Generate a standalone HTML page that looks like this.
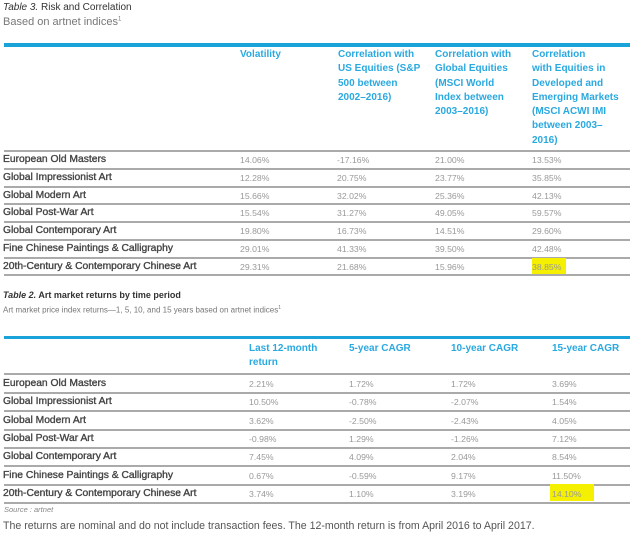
<!DOCTYPE html>
<html><head><style>
body{margin:0;width:635px;height:538px;background:#fff;position:relative;overflow:hidden;font-family:"Liberation Sans",sans-serif;}
div{position:absolute;white-space:nowrap;}
.t{font-size:10px;color:#333;}
.s{font-size:11px;color:#777;}
.s2{font-size:8px;color:#777;}
.bar{left:4px;width:626px;height:4px;background:#1aa3d9;}
.ln{left:4px;width:626px;height:1.5px;background:#aaa;}
.h{font-size:10px;color:#2aa9e0;font-weight:bold;line-height:14.3px;}
.lb{left:3px;font-size:10.3px;color:#444;-webkit-text-stroke:0.35px #444;}
.v{font-size:8.7px;color:#999;}
.hl{background:#f5f000;}
</style></head><body>
<div class="t" style="left:3px;top:2px"><i>Table 3.</i> Risk and Correlation</div>
<div class="s" style="left:3px;top:16px">Based on artnet indices<sup style="font-size:6px">1</sup></div>
<div class="bar" style="top:43px"></div>
<div class="h" style="left:240px;top:48px">Volatility</div>
<div class="h" style="left:338px;top:48px">Correlation with<br>US Equities (S&amp;P<br>500 between<br>2002–2016)</div>
<div class="h" style="left:435px;top:48px">Correlation with<br>Global Equities<br>(MSCI World<br>Index between<br>2003–2016)</div>
<div class="h" style="left:532px;top:48px">Correlation<br>with Equities in<br>Developed and<br>Emerging Markets<br>(MSCI ACWI IMI<br>between 2003–<br>2016)</div>
<div class="ln" style="top:150px;height:2px"></div>
<div class="ln" style="top:168px"></div>
<div class="ln" style="top:186px"></div>
<div class="ln" style="top:203px"></div>
<div class="ln" style="top:221px"></div>
<div class="ln" style="top:239px"></div>
<div class="ln" style="top:257px"></div>
<div class="ln" style="top:274px;height:2px"></div>
<div class="hl" style="left:532px;top:258px;width:34px;height:16px"></div>

<div class="lb" style="top:154px">European Old Masters</div>
<div class="lb" style="top:172px">Global Impressionist Art</div>
<div class="lb" style="top:190px">Global Modern Art</div>
<div class="lb" style="top:207px">Global Post-War Art</div>
<div class="lb" style="top:225px">Global Contemporary Art</div>
<div class="lb" style="top:243px">Fine Chinese Paintings &amp; Calligraphy</div>
<div class="lb" style="top:261px">20th-Century &amp; Contemporary Chinese Art</div>

<div class="v" style="left:240px;top:155px">14.06%</div><div class="v" style="left:337px;top:155px">-17.16%</div><div class="v" style="left:435px;top:155px">21.00%</div><div class="v" style="left:532px;top:155px">13.53%</div>
<div class="v" style="left:240px;top:173px">12.28%</div><div class="v" style="left:337px;top:173px">20.75%</div><div class="v" style="left:435px;top:173px">23.77%</div><div class="v" style="left:532px;top:173px">35.85%</div>
<div class="v" style="left:240px;top:191px">15.66%</div><div class="v" style="left:337px;top:191px">32.02%</div><div class="v" style="left:435px;top:191px">25.36%</div><div class="v" style="left:532px;top:191px">42.13%</div>
<div class="v" style="left:240px;top:208px">15.54%</div><div class="v" style="left:337px;top:208px">31.27%</div><div class="v" style="left:435px;top:208px">49.05%</div><div class="v" style="left:532px;top:208px">59.57%</div>
<div class="v" style="left:240px;top:226px">19.80%</div><div class="v" style="left:337px;top:226px">16.73%</div><div class="v" style="left:435px;top:226px">14.51%</div><div class="v" style="left:532px;top:226px">29.60%</div>
<div class="v" style="left:240px;top:244px">29.01%</div><div class="v" style="left:337px;top:244px">41.33%</div><div class="v" style="left:435px;top:244px">39.50%</div><div class="v" style="left:532px;top:244px">42.48%</div>
<div class="v" style="left:240px;top:262px">29.31%</div><div class="v" style="left:337px;top:262px">21.68%</div><div class="v" style="left:435px;top:262px">15.96%</div><div class="v" style="left:532px;top:262px">38.85%</div>

<div class="t" style="left:3px;top:290px;font-size:9px;font-weight:bold"><i>Table 2.</i> Art market returns by time period</div>
<div class="s2" style="left:3px;top:305px">Art market price index returns—1, 5, 10, and 15 years based on artnet indices<sup style="font-size:5px">1</sup></div>
<div class="bar" style="top:336px;height:3px"></div>
<div class="h" style="left:249px;top:342px">Last 12-month<br>return</div>
<div class="h" style="left:349px;top:342px">5-year CAGR</div>
<div class="h" style="left:451px;top:342px">10-year CAGR</div>
<div class="h" style="left:552px;top:342px">15-year CAGR</div>
<div class="ln" style="top:373px"></div>
<div class="ln" style="top:392px"></div>
<div class="ln" style="top:410px"></div>
<div class="ln" style="top:429px"></div>
<div class="ln" style="top:447px"></div>
<div class="ln" style="top:465px"></div>
<div class="ln" style="top:484px"></div>
<div class="ln" style="top:502px"></div>
<div class="hl" style="left:550px;top:484px;width:44px;height:17px"></div>

<div class="lb" style="top:378px">European Old Masters</div>
<div class="lb" style="top:396px">Global Impressionist Art</div>
<div class="lb" style="top:415px">Global Modern Art</div>
<div class="lb" style="top:433px">Global Post-War Art</div>
<div class="lb" style="top:451px">Global Contemporary Art</div>
<div class="lb" style="top:470px">Fine Chinese Paintings &amp; Calligraphy</div>
<div class="lb" style="top:488px">20th-Century &amp; Contemporary Chinese Art</div>

<div class="v" style="left:249px;top:379px">2.21%</div><div class="v" style="left:349px;top:379px">1.72%</div><div class="v" style="left:451px;top:379px">1.72%</div><div class="v" style="left:552px;top:379px">3.69%</div>
<div class="v" style="left:249px;top:397px">10.50%</div><div class="v" style="left:349px;top:397px">-0.78%</div><div class="v" style="left:451px;top:397px">-2.07%</div><div class="v" style="left:552px;top:397px">1.54%</div>
<div class="v" style="left:249px;top:416px">3.62%</div><div class="v" style="left:349px;top:416px">-2.50%</div><div class="v" style="left:451px;top:416px">-2.43%</div><div class="v" style="left:552px;top:416px">4.05%</div>
<div class="v" style="left:249px;top:434px">-0.98%</div><div class="v" style="left:349px;top:434px">1.29%</div><div class="v" style="left:451px;top:434px">-1.26%</div><div class="v" style="left:552px;top:434px">7.12%</div>
<div class="v" style="left:249px;top:452px">7.45%</div><div class="v" style="left:349px;top:452px">4.09%</div><div class="v" style="left:451px;top:452px">2.04%</div><div class="v" style="left:552px;top:452px">8.54%</div>
<div class="v" style="left:249px;top:471px">0.67%</div><div class="v" style="left:349px;top:471px">-0.59%</div><div class="v" style="left:451px;top:471px">9.17%</div><div class="v" style="left:552px;top:471px">11.50%</div>
<div class="v" style="left:249px;top:489px">3.74%</div><div class="v" style="left:349px;top:489px">1.10%</div><div class="v" style="left:451px;top:489px">3.19%</div><div class="v" style="left:552px;top:489px">14.10%</div>

<div style="left:4px;top:505px;font-size:7.5px;color:#888;font-style:italic">Source : artnet</div>
<div style="left:3px;top:520px;font-size:10.6px;color:#555">The returns are nominal and do not include transaction fees. The 12-month return is from April 2016 to April 2017.</div>
</body></html>
